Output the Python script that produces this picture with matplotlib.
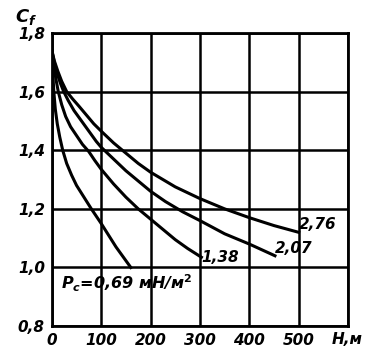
import matplotlib.pyplot as plt

plt.rcParams["mathtext.fontset"] = "custom"
plt.rcParams["mathtext.it"] = "DejaVu Sans:italic:bold"
plt.rcParams["mathtext.rm"] = "DejaVu Sans:bold"

# H, m  ->  Cf  for each surface pressure Pc (mN/m^2)
h_069 = [0, 2, 4, 7, 11, 16, 22, 30, 40, 50, 65, 80, 100, 115, 130, 145, 160]
cf_069 = [1.74, 1.66, 1.60, 1.54, 1.49, 1.445, 1.40, 1.355, 1.315, 1.28, 1.24,
          1.20, 1.15, 1.11, 1.07, 1.035, 1.00]

h_138 = [0, 4, 8, 13, 20, 28, 38, 50, 62, 75, 87, 100, 125, 150, 175, 200, 225,
         250, 275, 303]
cf_138 = [1.74, 1.69, 1.645, 1.60, 1.555, 1.515, 1.48, 1.45, 1.42, 1.395, 1.365,
          1.335, 1.285, 1.24, 1.20, 1.165, 1.13, 1.095, 1.065, 1.035]

h_207 = [0, 5, 10, 17, 24, 33, 45, 60, 75, 90, 100, 125, 150, 175, 200, 230, 265,
         300, 350, 400, 452]
cf_207 = [1.74, 1.70, 1.665, 1.63, 1.60, 1.57, 1.535, 1.50, 1.465, 1.43, 1.41, 1.37,
          1.33, 1.295, 1.26, 1.225, 1.19, 1.16, 1.115, 1.08, 1.04]

h_276 = [0, 5, 12, 20, 30, 42, 55, 70, 85, 100, 125, 150, 175, 200, 250, 300, 350,
         400, 450, 500]
cf_276 = [1.74, 1.705, 1.67, 1.635, 1.60, 1.575, 1.55, 1.52, 1.49, 1.465, 1.425, 1.39,
          1.355, 1.325, 1.275, 1.235, 1.20, 1.17, 1.143, 1.12]

x_ticks = [0, 100, 200, 300, 400, 500]
y_ticks = [0.8, 1.0, 1.2, 1.4, 1.6, 1.8]
y_labels = ["0,8", "1,0", "1,2", "1,4", "1,6", "1,8"]

font = dict(family="DejaVu Sans", style="italic", weight="bold", fontsize=11)

fig = plt.figure(figsize=(3.73, 3.58), dpi=100)
ax = fig.add_axes([0.139, 0.089, 0.794, 0.819])

for h, cf in [(h_069, cf_069), (h_138, cf_138), (h_207, cf_207), (h_276, cf_276)]:
    ax.plot(h, cf, color="black", lw=2.2, solid_joinstyle="round")

ax.set_xlim(0, 600)
ax.set_ylim(0.8, 1.8)
ax.set_xticks(x_ticks + [600])
ax.set_xticklabels([str(v) for v in x_ticks] + [""], **font)
ax.set_yticks(y_ticks)
ax.set_yticklabels(y_labels, **font)
ax.tick_params(length=0, pad=5)
ax.grid(True, color="black", lw=1.8)
for s in ax.spines.values():
    s.set_linewidth(2)

ax.text(1.05, -0.02, "H,м", transform=ax.transAxes, ha="right", va="top", **font)
ax.text(-0.05, 1.02, "$C_f$", transform=ax.transAxes, ha="right", va="bottom",
        fontsize=13)

ax.text(500, 1.12, "2,76", ha="left", va="bottom", **font)
ax.text(452, 1.04, "2,07", ha="left", va="bottom", **font)
ax.text(303, 1.035, "1,38", ha="left", va="center", **font)
ax.text(18, 0.945, r"$P_c$=0,69 мН/м$^2$", ha="left", va="center",
        family="DejaVu Sans", style="italic", weight="bold", fontsize=11.5)

fig.savefig("out.png", dpi=100)
